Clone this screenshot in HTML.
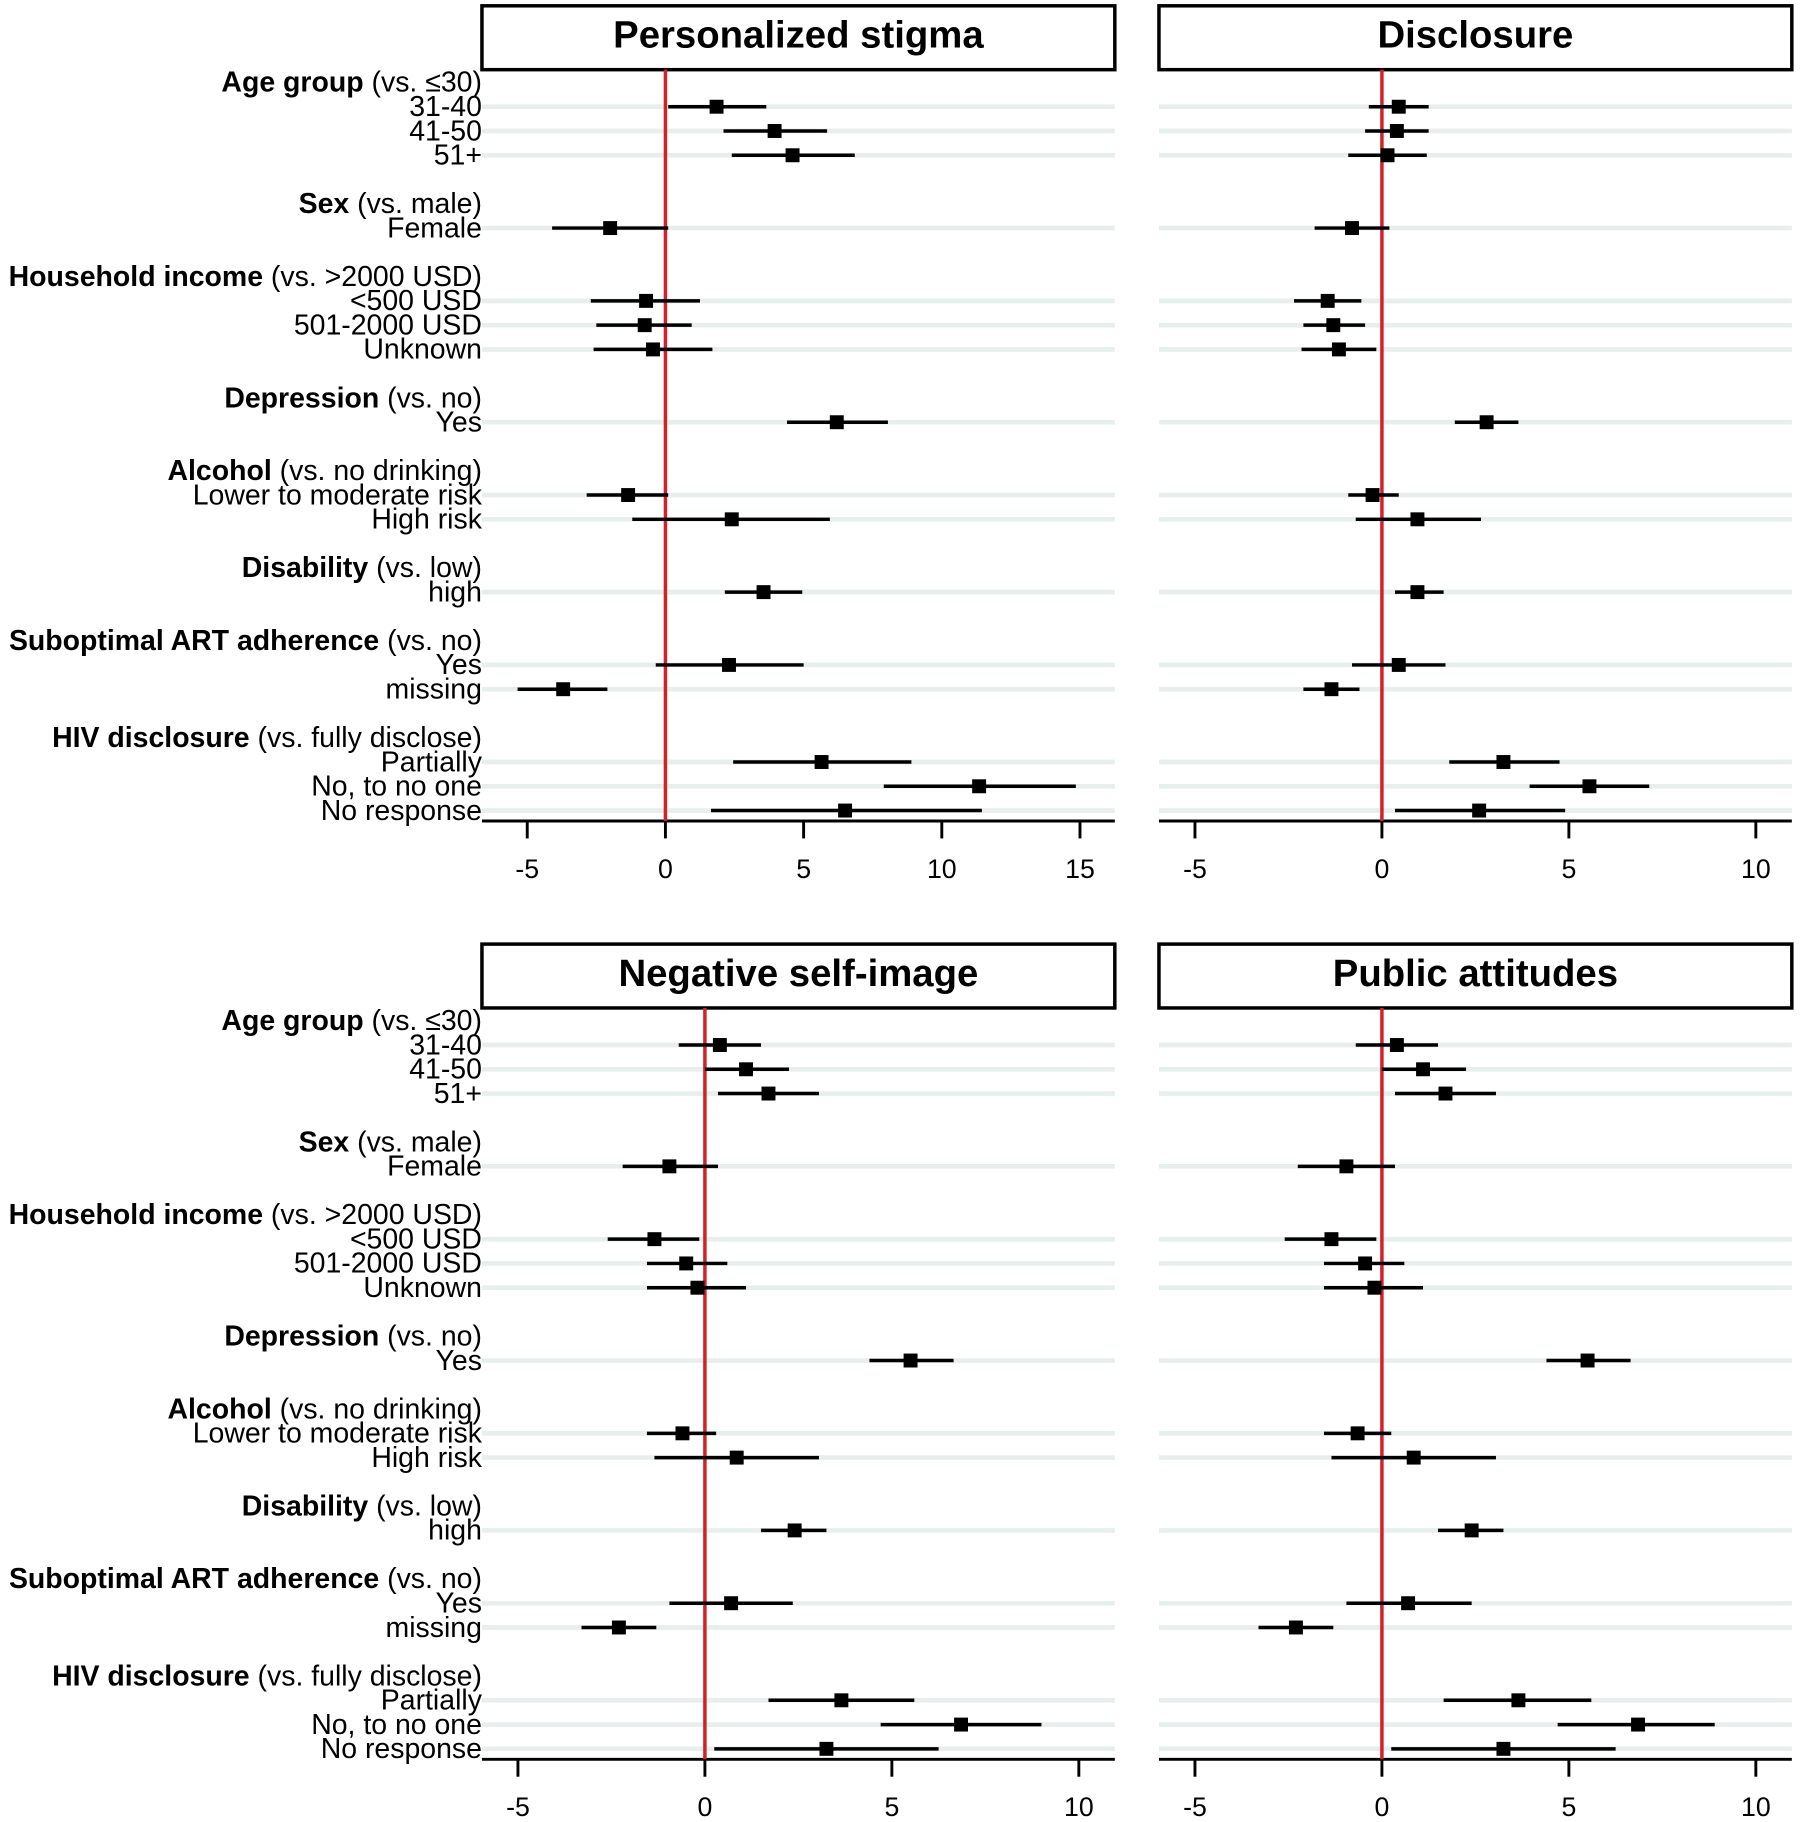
<!DOCTYPE html>
<html><head><meta charset="utf-8"><style>
html,body{margin:0;padding:0;background:#fff;}
svg{display:block;font-family:"Liberation Sans",sans-serif;}
</style></head><body>
<svg id="chart" width="1800" height="1822" viewBox="0 0 1550 1569" xmlns="http://www.w3.org/2000/svg"></svg>
<script>
const rowLabels = [
 ["Age group"," (vs. \u226430)",0],["31-40","",1],["41-50","",2],["51+","",3],
 ["Sex"," (vs. male)",5],["Female","",6],
 ["Household income"," (vs. >2000 USD)",8],["<500 USD","",9],["501-2000 USD","",10],["Unknown","",11],
 ["Depression"," (vs. no)",13],["Yes","",14],
 ["Alcohol"," (vs. no drinking)",16],["Lower to moderate risk","",17],["High risk","",18],
 ["Disability"," (vs. low)",20],["high","",21],
 ["Suboptimal ART adherence"," (vs. no)",23],["Yes","",24],["missing","",25],
 ["HIV disclosure"," (vs. fully disclose)",27],["Partially","",28],["No, to no one","",29],["No response","",30]
];
const rowIndex = [1,2,3,6,9,10,11,14,17,18,21,24,25,28,29,30];
const stigmaEst = [1.85,3.95,4.6,-2.0,-0.7,-0.75,-0.45,6.2,-1.35,2.4,3.55,2.3,-3.7,5.65,11.35,6.5];
const stigmaLo  = [0.1,2.1,2.4,-4.1,-2.7,-2.5,-2.6,4.4,-2.85,-1.2,2.15,-0.35,-5.35,2.45,7.9,1.65];
const stigmaHi  = [3.65,5.85,6.85,0.1,1.25,0.95,1.7,8.05,0.1,5.95,4.95,5.0,-2.1,8.9,14.85,11.45];
const discEst = [0.45,0.4,0.15,-0.8,-1.45,-1.3,-1.15,2.8,-0.25,0.95,0.95,0.45,-1.35,3.25,5.55,2.6];
const discLo  = [-0.35,-0.45,-0.9,-1.8,-2.35,-2.1,-2.15,1.95,-0.9,-0.7,0.35,-0.8,-2.1,1.8,3.95,0.35];
const discHi  = [1.25,1.25,1.2,0.2,-0.55,-0.45,-0.15,3.65,0.45,2.65,1.65,1.7,-0.6,4.75,7.15,4.9];
const selfEst = [0.4,1.1,1.7,-0.95,-1.35,-0.5,-0.2,5.5,-0.6,0.85,2.4,0.7,-2.3,3.65,6.85,3.25];
const selfLo  = [-0.7,0.0,0.35,-2.2,-2.6,-1.55,-1.55,4.4,-1.55,-1.35,1.5,-0.95,-3.3,1.7,4.7,0.25];
const selfHi  = [1.5,2.25,3.05,0.35,-0.15,0.6,1.1,6.65,0.3,3.05,3.25,2.35,-1.3,5.6,9.0,6.25];
const pubEst = [0.4,1.1,1.7,-0.95,-1.35,-0.45,-0.2,5.5,-0.65,0.85,2.4,0.7,-2.3,3.65,6.85,3.25];
const pubLo  = [-0.7,0.0,0.35,-2.25,-2.6,-1.55,-1.55,4.4,-1.55,-1.35,1.5,-0.95,-3.3,1.65,4.7,0.25];
const pubHi  = [1.5,2.25,3.05,0.35,-0.15,0.6,1.1,6.65,0.25,3.05,3.25,2.4,-1.3,5.6,8.9,6.25];
const ticksA = [-5,0,5,10,15];
const ticksB = [-5,0,5,10];

const NS="http://www.w3.org/2000/svg";
const svg=document.getElementById('chart');
function mk(tag,attrs,parent){const e=document.createElementNS(NS,tag);for(const k in attrs)e.setAttribute(k,attrs[k]);(parent||svg).appendChild(e);return e;}

function panel(name,title,x0,x1,yOff,zeroX,ppu,ticks,est,lo,hi,showLabels){
  const g=mk('g',{});
  
  
  const sx=v=>zeroX+v*ppu;
  const sy=i=>yOff+71+20.9*i;
  const box=mk('rect',{x:x0,y:yOff+5,width:x1-x0,height:55,fill:'#fff',stroke:'#000','stroke-width':3},g);
  
  
  const t=mk('text',{x:(x0+x1)/2,y:yOff+41,'text-anchor':'middle','font-size':33,'font-weight':'bold'},g);
  t.textContent=title;
  
  
  rowIndex.forEach(i=>{
    const b=mk('line',{x1:x0,x2:x1,y1:sy(i),y2:sy(i),stroke:'#e6eeee','stroke-width':4},g);
    
    
  });
  const ax=mk('line',{x1:x0,x2:x1,y1:yOff+707,y2:yOff+707,stroke:'#000','stroke-width':2.5},g);
  
  
  ticks.forEach(v=>{
    const tl=mk('line',{x1:sx(v),x2:sx(v),y1:yOff+707,y2:yOff+722,stroke:'#000','stroke-width':2.5},g);
    
    
    const tt=mk('text',{x:sx(v),y:yOff+756,'text-anchor':'middle','font-size':23},g);
    tt.textContent=v;
    
    
  });
  const rl=mk('line',{x1:sx(0),x2:sx(0),y1:yOff+60,y2:yOff+707,stroke:'#d42027','stroke-width':3},g);
  
  
  est.forEach((v,k)=>{
    const y=sy(rowIndex[k]);
    const ci=mk('line',{x1:sx(lo[k]),x2:sx(hi[k]),y1:y,y2:y,stroke:'#000','stroke-width':3},g);
    
    
    const p=mk('rect',{x:sx(v)-6,y:y-6,width:12,height:12,fill:'#000'},g);
    
    
  });
  if(showLabels){
    rowLabels.forEach(r=>{
      const tx=mk('text',{x:415,y:sy(r[2])+8,'text-anchor':'end','font-size':24.5},g);
      if(r[1]){
        const b=mk('tspan',{'font-weight':'bold'},tx);b.textContent=r[0];
        const s=mk('tspan',{},tx);s.textContent=r[1];
      } else tx.textContent=r[0];
      
      
    });
  }
}
panel('personalized-stigma','Personalized stigma',415,960,0,573,23.8,ticksA,stigmaEst,stigmaLo,stigmaHi,true);
panel('disclosure','Disclosure',998,1543,0,1190,32.2,ticksB,discEst,discLo,discHi,false);
panel('negative-self-image','Negative self-image',415,960,808,607,32.2,ticksB,selfEst,selfLo,selfHi,true);
panel('public-attitudes','Public attitudes',998,1543,808,1190,32.2,ticksB,pubEst,pubLo,pubHi,false);
</script>
</body></html>
